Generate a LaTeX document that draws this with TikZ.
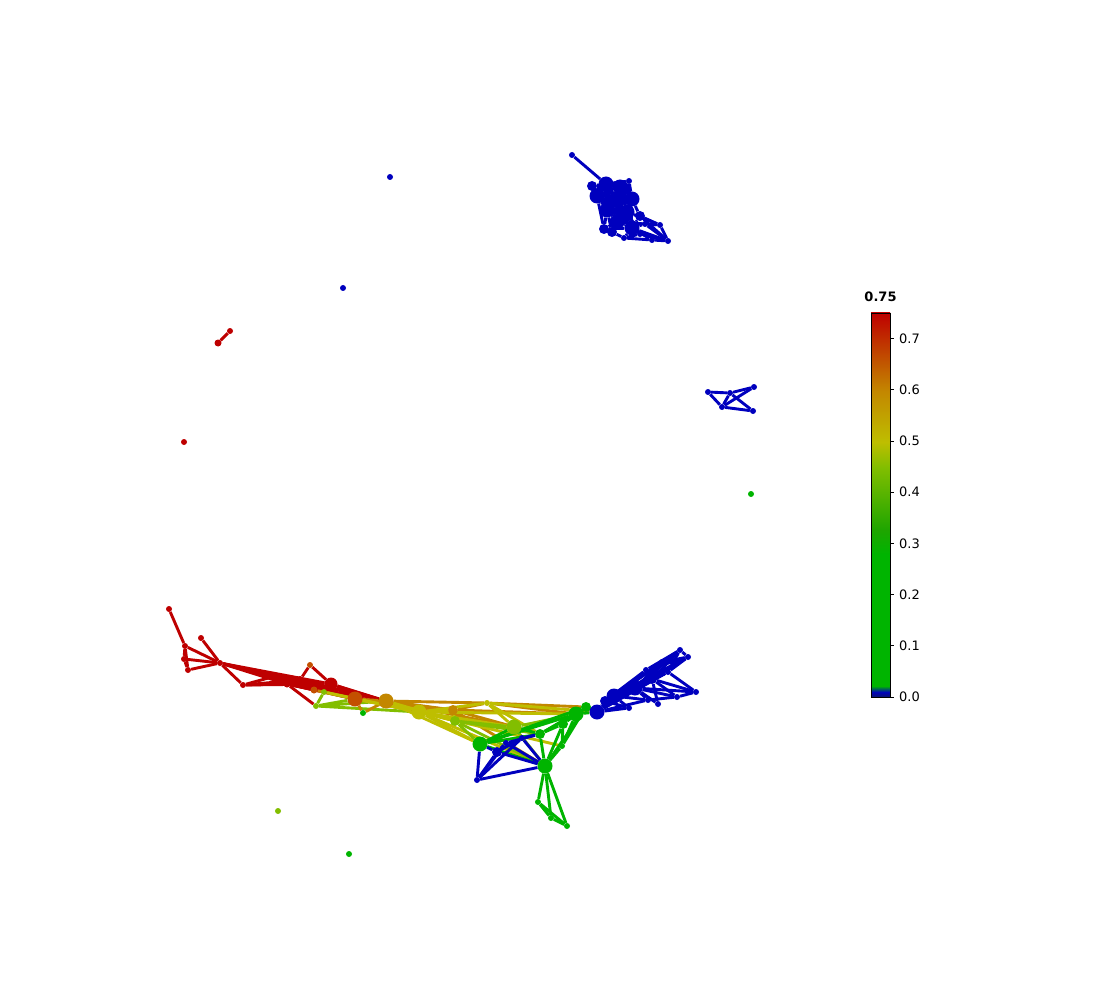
\documentclass[tikz,border=0pt]{standalone}
\usepackage{fontspec}
\setsansfont{DejaVu Sans}
\pgfdeclarelayer{background}
\pgfsetlayers{background,main}

\definecolor{cblue}{RGB}{0,0,190}
\definecolor{cnavy}{RGB}{10,20,110}
\definecolor{cgreen}{RGB}{0,180,0}
\definecolor{cgreend}{RGB}{30,165,0}
\definecolor{cyg}{RGB}{130,190,0}
\definecolor{cyel}{RGB}{190,190,0}
\definecolor{corange}{RGB}{195,135,0}
\definecolor{cored}{RGB}{195,80,0}
\definecolor{cred}{RGB}{190,0,0}

\tikzset{
  nd/.style={circle,fill=#1,inner sep=0pt,minimum size=6pt},
  mid/.style={minimum size=10pt},
  big/.style={minimum size=15pt},
  ed/.style={draw=#1,line width=2.9pt},
  tick/.style={font=\sffamily\fontsize{13}{15}\selectfont,anchor=west,inner sep=0pt},
}

\begin{document}
\begin{tikzpicture}[x=1pt,y=-1pt]
\useasboundingbox (0,0) rectangle (1111,1000);

% ---------- lone nodes ----------
\node[nd=cblue] (i1) at (390,177) {};
\node[nd=cblue] (i2) at (343,288) {};
\node[nd=cred,minimum size=7pt] (i3) at (218,343) {};
\node[nd=cred] (i4) at (230,331) {};
\node[nd=cred] (i5) at (184,442) {};
\node[nd=cgreen] (i6) at (751,494) {};
\node[nd=cyg] (i7) at (278,811) {};
\node[nd=cgreen] (i8) at (349,854) {};

% ---------- top blue cluster ----------
\node[nd=cblue] (t0) at (572,155) {};
\node[nd=cblue,mid] (t1) at (592,186) {};
\node[nd=cblue,big] (t2) at (606,184) {};
\node[nd=cblue,big] (t3) at (620,187) {};
\node[nd=cblue] (t4) at (629,181) {};
\node[nd=cblue,big] (t5) at (632,199) {};
\node[nd=cblue,big] (t6) at (597,196) {};
\node[nd=cblue,big] (t7) at (615,200) {};
\node[nd=cblue,big] (t8) at (627,212) {};
\node[nd=cblue,big] (t9) at (607,210) {};
\node[nd=cblue,big] (t10) at (617,222) {};
\node[nd=cblue,big] (t11) at (632,228) {};
\node[nd=cblue,mid] (t12) at (604,229) {};
\node[nd=cblue] (t13) at (624,238) {};
\node[nd=cblue] (t14) at (645,224) {};
\node[nd=cblue] (t15) at (660,225) {};
\node[nd=cblue] (t16) at (668,241) {};
\node[nd=cblue] (t17) at (652,240) {};
\node[nd=cblue,mid] (t18) at (612,232) {};
\node[nd=cblue,mid] (t19) at (640,216) {};
\node[nd=cblue] (t20) at (640,234) {};

% ---------- right blue cluster ----------
\node[nd=cblue] (q1) at (708,392) {};
\node[nd=cblue] (q2) at (730,393) {};
\node[nd=cblue] (q3) at (754,387) {};
\node[nd=cblue] (q4) at (722,407) {};
\node[nd=cblue] (q5) at (753,411) {};

% ---------- red chain ----------
\node[nd=cred] (r1) at (169,609) {};
\node[nd=cred] (r2) at (185,646) {};
\node[nd=cred] (r3) at (184,659) {};
\node[nd=cred] (r4) at (188,670) {};
\node[nd=cred] (r5) at (201,638) {};
\node[nd=cred] (r6) at (220,663) {};
\node[nd=cred] (r7) at (243,685) {};
\node[nd=cred] (r8) at (272,677) {};
\node[nd=cred,minimum size=7pt] (r9) at (287,684) {};
\node[nd=cred,minimum size=8pt] (r10) at (300,680) {};
\node[nd=cored] (r11) at (310,665) {};
\node[nd=cred,minimum size=13pt] (r12) at (331,684) {};
\node[nd=cored,minimum size=7pt] (r13) at (314,690) {};

% ---------- middle ----------
\node[nd=cyg] (yg0) at (316,706) {};
\node[nd=cyg] (yg1) at (324,692) {};
\node[nd=cgreen] (gs) at (363,713) {};
\node[nd=cored,big] (o1) at (355,699) {};
\node[nd=corange,big] (o2) at (386,701) {};
\node[nd=cyel,big] (y1) at (419,712) {};
\node[nd=corange,mid] (o3) at (453,710) {};
\node[nd=cyel] (y2) at (487,703) {};
\node[nd=cyg,mid] (yg2) at (455,721) {};
\node[nd=cyg,big] (yg3) at (514,727) {};
\node[nd=cgreen,big] (g1) at (480,744) {};
\node[nd=cgreen,big] (g2) at (545,766) {};
\node[nd=cgreen] (g3) at (538,802) {};
\node[nd=cgreen] (g4) at (551,818) {};
\node[nd=cgreen] (g5) at (567,826) {};
\node[nd=cgreen,mid] (g6) at (540,734) {};
\node[nd=cgreen] (g7) at (562,746) {};
\node[nd=cgreen,big] (g8) at (576,714) {};
\node[nd=cgreen,mid] (g9) at (586,707) {};
\node[nd=cgreen,mid] (g10) at (563,724) {};
\node[nd=cblue,mid] (b1) at (497,752) {};
\node[nd=cblue] (b2) at (477,780) {};
\node[nd=cblue] (b13) at (506,743) {};
\node[nd=cblue] (b14) at (522,738) {};

% ---------- bottom right blue cluster ----------
\node[nd=cblue,big] (b3) at (597,712) {};
\node[nd=cblue,mid] (b4) at (605,701) {};
\node[nd=cblue,big] (b5) at (614,696) {};
\node[nd=cblue,big] (b6) at (635,688) {};
\node[nd=cblue,mid] (b7) at (652,679) {};
\node[nd=cblue] (b8) at (668,672) {};
\node[nd=cblue] (b9) at (680,650) {};
\node[nd=cblue] (b10) at (688,657) {};
\node[nd=cblue] (b11) at (696,692) {};
\node[nd=cblue] (b12) at (677,697) {};
\node[nd=cblue] (b15) at (658,704) {};
\node[nd=cblue] (b16) at (648,700) {};
\node[nd=cblue] (b17) at (629,708) {};
\node[nd=cblue] (b18) at (662,662) {};
\node[nd=cblue] (b19) at (646,670) {};

% ---------- edges ----------
\begin{pgfonlayer}{background}
\draw[ed=cred] (i3) -- (i4);
% top cluster
\foreach \i in {1,...,10}{
  \pgfmathtruncatemacro\k{\i+1}
  \foreach \j in {\k,...,11} \draw[ed=cblue] (t\i) -- (t\j);
}
\foreach \a/\b in {t0/t2,t11/t14,t14/t15,t15/t16,t11/t16,t17/t16,t11/t17,
    t10/t14,t10/t15,t8/t15,t12/t18,t18/t13,t12/t9,t13/t11,t18/t10,t13/t17,t12/t10,
    t19/t5,t19/t8,t19/t11,t19/t15,t19/t16,t20/t11,t20/t16,t20/t13,t20/t8,t12/t11,
    t6/t12,t9/t18,t14/t16}
  \draw[ed=cblue] (\a) -- (\b);
% right cluster
\foreach \a/\b in {q1/q2,q2/q3,q1/q4,q2/q4,q2/q5,q4/q5,q4/q3}
  \draw[ed=cblue] (\a) -- (\b);
% red chain
\foreach \a/\b in {r1/r2,r2/r3,r3/r4,r2/r4,r2/r6,r3/r6,r4/r6,r5/r6,r6/r7,r6/r8,
    r7/r8,r7/r9,r6/r9,r6/r10,r6/r12,r8/r12,r9/r12,r10/r12,r11/r10,r11/r12,r9/r13,
    r8/o1,r9/o1,r12/o1,r12/o2,r10/o1,r6/o1,r9/yg0,r12/y1,r10/o2,r9/y1,r7/r12,
    r7/r10,r8/r10,r6/o2,r8/y1}
  \draw[ed=cred] (\a) -- (\b);
% middle
\foreach \a/\b in {yg0/yg1,yg0/o1,yg0/o2,yg1/o1,yg0/y1}
  \draw[ed=cyg] (\a) -- (\b);
\foreach \a/\b in {gs/o1,gs/o2,o1/o2,o2/o3,o3/y2,o2/y2,y2/g8,y2/g9,o3/g6,o3/g8,
    o2/yg3,o3/g2,r13/o1,o1/o3}
  \draw[ed=corange] (\a) -- (\b);
\foreach \a/\b in {yg1/y1,o1/y1,o2/y1,y1/o3,y1/y2,y1/yg2,y1/g1,y1/yg3,y1/g2,
    y1/g6,y2/yg3,y2/g6,yg2/o3,o2/g1,y2/b3,y1/g7,y1/g8,o2/yg2}
  \draw[ed=cyel] (\a) -- (\b);
\foreach \a/\b in {yg2/g1,yg2/g2,yg2/g6,yg3/g8,yg3/g2,yg2/yg3}
  \draw[ed=cyg] (\a) -- (\b);
\foreach \a/\b in {g8/g9,g9/b3,g8/b3,g8/g10,g10/g6,g6/yg3,yg3/g1,g1/g6,g1/g2,
    g6/g2,g7/g2,g7/g8,g10/g2,g6/g8,g1/g8,g2/g3,g2/g4,g2/g5,g3/g4,g4/g5,g3/g5,
    g7/g9,g10/g9,g1/g9,g6/g9,g7/g10,g2/g9}
  \draw[ed=cgreen] (\a) -- (\b);
\foreach \a/\b in {b2/b1,b2/b13,b2/b14,b2/g1,b1/b13,b1/b14,b1/g2,b13/g2,b2/g2,
    b1/g1,b13/g6,b14/g6,b14/g2}
  \draw[ed=cblue] (\a) -- (\b);
% bottom right cluster
\foreach \i in {3,...,7}{
  \pgfmathtruncatemacro\k{\i+1}
  \foreach \j in {\k,...,8} \draw[ed=cblue] (b\i) -- (b\j);
}
\foreach \a/\b in {b5/b9,b6/b9,b7/b9,b5/b10,b6/b10,b7/b10,b8/b9,b8/b10,b9/b10,
    b6/b11,b7/b11,b8/b11,b6/b12,b7/b12,b16/b12,b6/b15,b7/b15,b5/b16,b6/b16,
    b4/b17,b5/b17,b3/b17,b12/b11,b4/b9,b4/b10,b3/b19,b5/b18,b6/b18,b19/b9,
    b19/b10,b18/b9,b18/b10,b4/b19,b7/b18,b3/b16}
  \draw[ed=cblue] (\a) -- (\b);
\end{pgfonlayer}

% ---------- colour bar ----------
\shade[bottom color=cnavy,top color=cblue] (871,697) rectangle (890,692);
\shade[bottom color=cblue,top color=cgreen] (871,692.2) rectangle (890,686);
\fill[cgreen] (871,686.2) rectangle (890,554);
\shade[bottom color=cgreen,top color=cgreend] (871,554.2) rectangle (890,530);
\shade[bottom color=cgreend,top color=cyg] (871,530.2) rectangle (890,467);
\shade[bottom color=cyg,top color=cyel] (871,467.2) rectangle (890,442);
\shade[bottom color=cyel,top color=corange] (871,442.2) rectangle (890,391);
\shade[bottom color=corange,top color=cred] (871,391.2) rectangle (890,313);
\draw[line width=0.8pt] (871,313) rectangle (890,697);
\foreach \v [count=\n from 0] in {0.0,0.1,0.2,0.3,0.4,0.5,0.6,0.7}{
  \draw[line width=0.8pt] (890,697-51.2*\n) -- (894,697-51.2*\n);
  \node[tick] (lab\n) at (899,697-51.2*\n) {\v};
}
\node[font=\sffamily\bfseries\fontsize{13}{15}\selectfont] (cbtitle) at (880.5,297) {0.75};

\end{tikzpicture}
\end{document}
